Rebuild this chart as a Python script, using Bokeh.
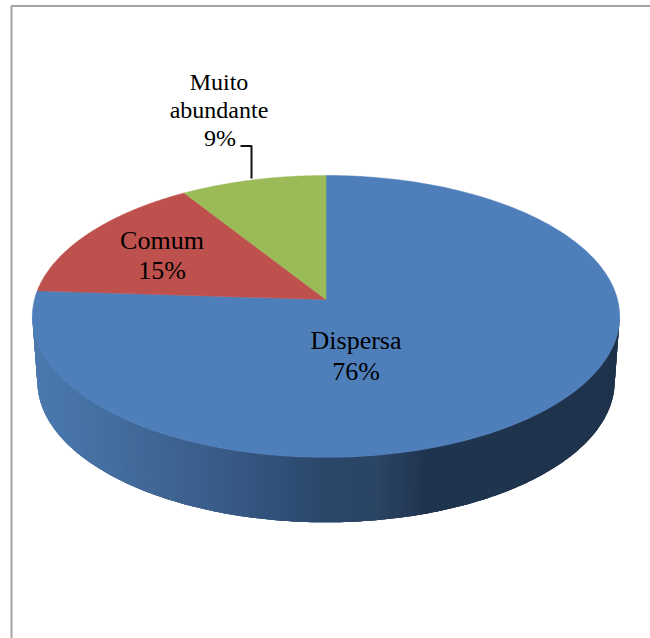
import numpy as np
from bokeh.plotting import figure
from bokeh.models import Range1d
from bokeh.core.properties import value
from bokeh.embed import file_html
from bokeh.resources import INLINE

# data
categories = ["Dispersa", "Comum", "Muito abundante"]
percent = [76, 15, 9]
slice_colors = ["#4F7FBB", "#BE504D", "#9BBB59"]

# side-wall shading: (page x, colour) stops
wall_x = [33, 120, 200, 290, 326, 375, 405, 427, 618]
wall_rgb = [(0x4B, 0x79, 0xAF), (0x42, 0x6C, 0x9C), (0x3B, 0x5E, 0x8C), (0x2F, 0x4E, 0x75),
            (0x2A, 0x46, 0x69), (0x2B, 0x45, 0x65), (0x25, 0x3C, 0x59), (0x1F, 0x34, 0x4E), (0x1F, 0x33, 0x4C)]

# projection of the tilted disc
CX, CY, A, B, K = 325.5, 299.0, 291.5, 138.9, 0.12
DEPTH, SHRINK = 65.0, 0.983


def rim(theta):
    u, v = np.sin(theta), np.cos(theta)
    d = 1 + K * v
    return CX + A * u / d, CY - B * v / d


W, H = 650, 638
p = figure(width=W, height=H, output_backend="svg", toolbar_location=None,
           x_range=Range1d(0, W), y_range=Range1d(H, 0),
           min_border=0, outline_line_color=None, x_axis_location=None, y_axis_location=None)
p.grid.visible = False
p.background_fill_color = "white"
p.border_fill_color = "white"

# chart frame
p.line([650, 11, 11], [5.5, 5.5, 638], line_color="#A3A3A3", line_width=2)

# side wall: each strip overlaps the next one so no seams show
fr = np.cumsum([0] + percent) / sum(percent)
t_lo, t_hi = np.radians(96), np.radians(264)
edges = np.linspace(t_lo, t_hi, 201)
xs, ys, cols = [], [], []
for i in range(len(edges) - 1):
    a = edges[i]
    b = edges[min(i + 3, len(edges) - 1)]
    tt = np.linspace(a, b, 4)
    x, y = rim(tt)
    xb = CX + (x - CX) * SHRINK
    yb = y + DEPTH
    xs.append(list(x) + list(xb[::-1]))
    ys.append(list(y) + list(yb[::-1]))
    m = rim(np.array([(edges[i] + edges[i + 1]) / 2]))[0][0]
    rgb = [int(round(np.interp(m, wall_x, [c[j] for c in wall_rgb]))) for j in range(3)]
    cols.append("#%02X%02X%02X" % tuple(rgb))
p.patches(xs, ys, fill_color=cols, line_color=None)

# top faces
xs, ys = [], []
for s, e in zip(fr[:-1], fr[1:]):
    tt = np.linspace(s, e, 240) * 2 * np.pi
    x, y = rim(tt)
    xs.append([CX] + list(x))
    ys.append([CY] + list(y))
p.patches(xs, ys, fill_color=slice_colors, line_color=slice_colors, line_width=0.5)

# leader line
p.line([240, 251, 251], [145.5, 145.5, 178], line_color="#111111", line_width=2)

font = value("Liberation Serif")


def label(x, y, txt, size):
    p.text([x], [y], text=[txt], text_font=font, text_font_size=size,
           text_align="center", text_baseline="middle", text_color="#000000")


label(355.5, 340, categories[0], "26px")
label(355.5, 371, f"{percent[0]}%", "26px")
label(161.5, 240, categories[1], "26px")
label(161.5, 270, f"{percent[1]}%", "26px")
first, second = categories[2].split(" ")
label(218.5, 81, first, "24px")
label(218.5, 109, second, "24px")
label(219.5, 137, f"{percent[2]}%", "24px")

open("out.html", "w").write(file_html(p, INLINE))
